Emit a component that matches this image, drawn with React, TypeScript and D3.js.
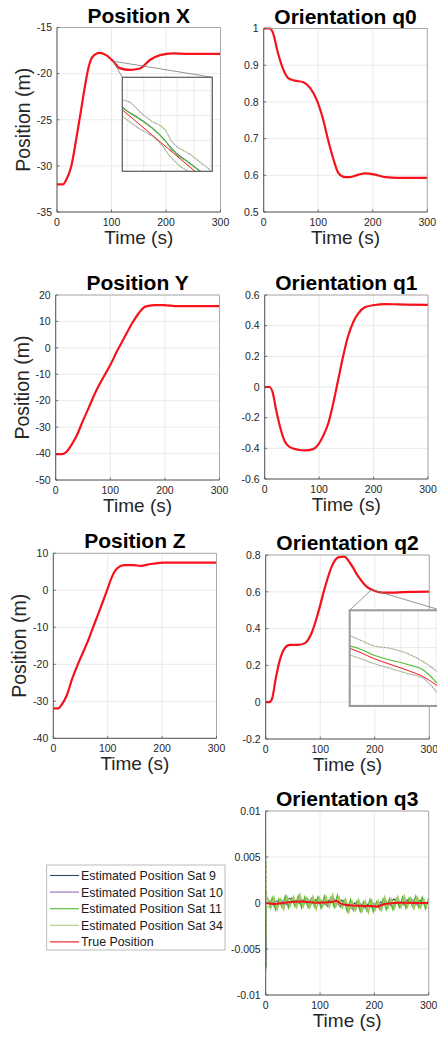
import React from 'react';
import * as d3 from 'd3';

const FONT = '"Liberation Sans", Arial, Helvetica, sans-serif';

// ---------------- data ----------------
const timeTicks = [0, 100, 200, 300];

// Position X
const posXTime = [0, 11, 17, 26, 35, 44, 50, 58, 65, 78, 90, 103, 115, 134, 152, 171, 189, 213, 240, 300];
const posXTrue = [-32, -32, -31.5, -30.1, -27.2, -24, -21.8, -19.3, -18.2, -17.75, -18, -18.65, -19.4, -19.6, -19.45, -18.5, -18, -17.8, -17.85, -17.85];
const posXTicks = [-35, -30, -25, -20, -15];

// Orientation q0
const q0Time = [0, 11, 17, 26, 36, 45, 57, 72, 85, 97, 109, 118, 128, 137, 149, 158, 174, 186, 204, 223, 247, 300];
const q0True = [1, 1, 0.988, 0.934, 0.888, 0.865, 0.858, 0.854, 0.838, 0.806, 0.752, 0.697, 0.643, 0.606, 0.595, 0.595, 0.602, 0.605, 0.602, 0.595, 0.593, 0.593];
const q0Ticks = [0.5, 0.6, 0.7, 0.8, 0.9, 1];

// Position Y
const posYTime = [0, 11, 20, 29, 39, 48, 60, 72, 88, 100, 112, 125, 140, 152, 164, 180, 198, 223, 300];
const posYTrue = [-40.2, -40.2, -39.3, -36.7, -33, -28.5, -22.9, -17.2, -10.9, -6.5, -1.4, 3.6, 9.3, 13.1, 15.6, 16.2, 16.2, 15.8, 15.8];
const posYTicks = [-50, -40, -30, -20, -10, 0, 10, 20];

// Orientation q1
const q1Time = [0, 9, 15, 21, 28, 37, 46, 61, 74, 89, 98, 107, 117, 126, 135, 144, 153, 163, 172, 184, 202, 221, 245, 300];
const q1True = [0, 0, -0.04, -0.149, -0.257, -0.355, -0.392, -0.409, -0.413, -0.405, -0.377, -0.322, -0.235, -0.105, 0.047, 0.199, 0.329, 0.426, 0.48, 0.52, 0.535, 0.541, 0.539, 0.535];
const q1Ticks = [-0.6, -0.4, -0.2, 0, 0.2, 0.4, 0.6];

// Position Z
const posZTime = [0, 9, 15, 25, 34, 46, 62, 77, 90, 99, 108, 117, 130, 148, 160, 179, 204, 241, 300];
const posZTrue = [-31.9, -31.9, -31, -28.3, -24.2, -19.7, -14.3, -8.5, -3.5, 0.1, 3.7, 5.9, 6.8, 6.8, 6.6, 7.1, 7.5, 7.5, 7.5];
const posZTicks = [-40, -30, -20, -10, 0, 10];

// Orientation q2
const q2Time = [0, 7, 12, 18, 26, 35, 44, 60, 72, 84, 96, 109, 121, 133, 144, 155, 170, 185, 198, 213, 237, 265, 300];
const q2True = [0, 0, 0.022, 0.122, 0.23, 0.294, 0.312, 0.312, 0.321, 0.375, 0.484, 0.628, 0.737, 0.787, 0.791, 0.755, 0.682, 0.628, 0.607, 0.596, 0.596, 0.6, 0.601];
const q2Ticks = [-0.2, 0, 0.2, 0.4, 0.6, 0.8];

// Orientation q3 (values in units of 1e-4)
const q3Time = [0, 17, 35, 66, 96, 121, 130, 136, 145, 170, 194, 204, 219, 250, 300];
const q3True = [0, -1, 0.4, 1.5, 0.4, 1, 2.5, 0, -2, -3, -3.3, -4, -1, 0.4, 0];
const q3Sat34 = [6, -5.5, 6, -6.8, 3.7, -6.7, 6.8, -2.8, 6.4, -4.5, 8.5, -3.6, 5.2, -5, 6.7, -6.5, 5.4, -3.5, 6.7, -4.1, 8.5, -3.7, 5.8, -5, 4, -9.5, 1.2, -8, 3, -9, 1.9, -10.2, 2.6, -7.8, 2, -7.8, 6, -5.4, 4, -5.7, 6.4, -4.6, 7.3, -3.8, 5.2, -5.9, 6.1, -5, 4, -6];
const q3Sat11 = [-5, 5.5, -7, 4.2, -4.3, 7.3, -5.2, 5.2, -3.6, 7.5, -5.5, 6.4, -4.8, 5, -4.3, 6.5, -5.6, 7.5, -3.3, 5.9, -4.5, 8.3, -4.2, 3, -9, 3.5, -7.8, 2, -9, 1, -8.1, 3.8, -9.4, 1.2, -7, 4.2, -7, 4.6, -7, 4.3, -4.6, 6.4, -5.7, 5.2, -3.8, 7.1, -4.9, 6, -6, 5];
const q3Sat10 = [4, -3.9, 3.3, -2.8, 3.5, -1.6, 5, -1.5, 3.5, -3.1, 5.3, -4, -0.5, -7, 0, -6.2, 0.2, -3.8, 2.6, -3.7, 2.4, -2.7, 4.2, -2.9, 3];
const q3Sat9 = [-3, 2.1, -1.7, 5.2, -1.5, 3.4, -3, 3.5, -2.5, 2.9, -0.7, 3, -4.5, 0, -7, -1.2, -6.8, 1.2, -2.4, 4.3, -2.6, 3.3, -1.8, 3.1, -3];
const q3SpikeTime = [0, 0.4, 0.8, 1.2, 1.6, 2.2];
const q3Spike34 = [78, -75, 45, -35, 14, 6];
const q3Spike9 = [-20, -70, -12, -30, -6, -3];
const q3Ticks = [-0.01, -0.005, 0, 0.005, 0.01];

// Zoom inset: Position X (normalized inset units 0..100)
const pxZoomPoint = { t: 103, v: -18.65 };
const pxInRedX = [0, 20, 40, 60, 80, 100];
const pxInRed = [65.4, 49.2, 33, 16.8, 0.6, -15.6];
const pxInGreenX = [0, 5, 10, 17, 24, 33, 42, 50, 55, 58, 61, 66, 72, 78, 85, 100];
const pxInGreen = [67.5, 64, 61, 57, 52.3, 46, 38.2, 30, 22.3, 21, 17, 14, 10.6, 6, 1, -10];
const pxInDark = [68.5, 64.5, 61.5, 57.5, 53, 46.5, 38.8, 29.5, 24.5, 21.5, 18.5, 15, 11, 6.5, 1.5, -9.5];
const pxInUpperX = [0, 4, 9, 16, 24, 33, 42, 48, 54, 61, 68, 76, 86, 98];
const pxInUpper = [76, 75, 73.5, 67, 59.4, 53, 48.8, 44, 32.9, 25.8, 22, 17.7, 10, 1];
const pxInLowerX = [0, 8, 16, 25, 35, 44, 52, 57, 61, 66, 72, 100];
const pxInLower = [58.3, 53, 47, 42, 36.4, 28, 17, 12, 8.1, 4, 1, -20];
const pxInGridX = [5.2, 23.8, 42.4, 61, 79.6, 98.2];
const pxInGridY = [6.4, 32.9, 59.4, 85.9];

// Zoom inset: Orientation q2
const q2ZoomPoint = { t: 194, v: 0.612 };
const q2InX = [0, 11.3, 25.8, 44.1, 62.4, 80.6, 95.6];
const q2InUpper = [73.5, 69, 63, 60.3, 55.1, 46.3, 36];
const q2InGreen = [63, 59.6, 53.3, 48.1, 43.6, 37.6, 24];
const q2InRed = [60.3, 56.1, 49.8, 43.6, 37.6, 30.6, 21.5];
const q2InLower = [53.3, 49.8, 44.6, 39.4, 34.2, 28.9, 14];
const q2InGridX = [16.8, 36.8, 56.2, 75.1, 94.5];
const q2InGridY = [1, 21, 41, 61, 81];

// Legend
const legendLabels = ['Estimated Position Sat 9', 'Estimated Position Sat 10', 'Estimated Position Sat 11', 'Estimated Position Sat 34', 'True Position'];

// ---------------- styles ----------------
const C = {
  sat9: '#2e4a62',
  sat10: '#8d6cc4',
  sat11: '#4cbb2f',
  sat34: '#a9cc7a',
  band34: '#a2c663',
  red: '#f5121b',
  grid: '#e4e4e4',
  text: '#262626',
};
const legendColors = [C.sat9, C.sat10, C.sat11, C.sat34, C.red];

type Box = { left: number; right: number; top: number; bottom: number };

const LAYOUT: Record<string, Box> = {
  px: { left: 57, right: 220.5, top: 27.5, bottom: 212 },
  q0: { left: 263.7, right: 427.3, top: 28.5, bottom: 212 },
  py: { left: 55.7, right: 219.5, top: 295, bottom: 480 },
  q1: { left: 264.7, right: 428, top: 295, bottom: 479 },
  pz: { left: 53.3, right: 216.5, top: 553.3, bottom: 738.3 },
  q2: { left: 265.7, right: 429.3, top: 555, bottom: 739 },
  q3: { left: 265.7, right: 428.7, top: 811, bottom: 995 },
};
const INSET_PX: Box = { left: 122.3, right: 212.3, top: 77.3, bottom: 171.3 };
const INSET_Q2: Box = { left: 349.7, right: 441, top: 610.3, bottom: 706 };

type Scale = d3.ScaleLinear<number, number>;

function path(x: Scale, y: Scale, t: number[], v: number[], curve: d3.CurveFactory = d3.curveMonotoneX) {
  const pts = t.map((tt, i) => [tt, v[i]] as [number, number]);
  return d3.line<[number, number]>().x((d) => x(d[0])).y((d) => y(d[1])).curve(curve)(pts) || '';
}

const fmt = (d: number) => String(Math.round(d * 1e6) / 1e6);

function Panel(props: {
  id: string;
  b: Box;
  yDomain: [number, number];
  yTicks: number[];
  title: string;
  ylabel?: string;
  render: (x: Scale, y: Scale) => React.ReactNode;
}) {
  const { id, b, yDomain, yTicks, title, ylabel, render } = props;
  const x = d3.scaleLinear().domain([0, 300]).range([b.left, b.right]);
  const y = d3.scaleLinear().domain(yDomain).range([b.bottom, b.top]);
  const cx = (b.left + b.right) / 2;
  const cy = (b.top + b.bottom) / 2;
  return (
    <g>
      <defs>
        <clipPath id={`clip-${id}`}>
          <rect x={b.left} y={b.top - 1.5} width={b.right - b.left} height={b.bottom - b.top + 3} />
        </clipPath>
      </defs>
      {timeTicks.map((t) => (
        <line key={`gx${t}`} x1={x(t)} x2={x(t)} y1={b.top} y2={b.bottom} stroke={C.grid} strokeWidth={0.8} />
      ))}
      {yTicks.map((v) => (
        <line key={`gy${v}`} x1={b.left} x2={b.right} y1={y(v)} y2={y(v)} stroke={C.grid} strokeWidth={0.8} />
      ))}
      <g clipPath={`url(#clip-${id})`}>{render(x, y)}</g>
      {/* box */}
      <line x1={b.left} x2={b.right} y1={b.top} y2={b.top} stroke="#9a9a9a" strokeWidth={0.8} />
      <line x1={b.right} x2={b.right} y1={b.top} y2={b.bottom} stroke="#9a9a9a" strokeWidth={0.8} />
      <line x1={b.left} x2={b.left} y1={b.top} y2={b.bottom} stroke="#555" strokeWidth={1} />
      <line x1={b.left} x2={b.right} y1={b.bottom} y2={b.bottom} stroke="#555" strokeWidth={1} />
      {/* ticks */}
      {timeTicks.map((t) => (
        <g key={`tx${t}`}>
          <line x1={x(t)} x2={x(t)} y1={b.bottom} y2={b.bottom - 2.5} stroke="#555" strokeWidth={0.8} />
          <text x={x(t)} y={b.bottom + 13.8} textAnchor="middle" fontSize={10.5} fill={C.text} fontFamily={FONT}>
            {fmt(t)}
          </text>
        </g>
      ))}
      {yTicks.map((v) => (
        <g key={`ty${v}`}>
          <line x1={b.left} x2={b.left + 2.5} y1={y(v)} y2={y(v)} stroke="#555" strokeWidth={0.8} />
          <text x={b.left - 5} y={y(v)} dy="0.36em" textAnchor="end" fontSize={10.5} fill={C.text} fontFamily={FONT}>
            {fmt(v)}
          </text>
        </g>
      ))}
      <text x={cx} y={b.top - 5} textAnchor="middle" fontSize={21} fontWeight="bold" fill="#000" fontFamily={FONT}>
        {title}
      </text>
      <text x={cx} y={b.bottom + 32} textAnchor="middle" fontSize={19} fill={C.text} fontFamily={FONT}>
        Time (s)
      </text>
      {ylabel && (
        <text
          transform={`translate(${b.left - 27},${cy}) rotate(-90)`}
          textAnchor="middle"
          fontSize={19.5}
          fill={C.text}
          fontFamily={FONT}
        >
          {ylabel}
        </text>
      )}
    </g>
  );
}

function Inset(props: {
  id: string;
  b: Box;
  gridX: number[];
  gridY: number[];
  border: string;
  borderWidth: number;
  render: (x: Scale, y: Scale) => React.ReactNode;
}) {
  const { id, b, gridX, gridY, border, borderWidth, render } = props;
  const x = d3.scaleLinear().domain([0, 100]).range([b.left, b.right]);
  const y = d3.scaleLinear().domain([0, 100]).range([b.bottom, b.top]);
  return (
    <g>
      <defs>
        <clipPath id={`iclip-${id}`}>
          <rect x={b.left} y={b.top} width={b.right - b.left} height={b.bottom - b.top} />
        </clipPath>
      </defs>
      <rect x={b.left} y={b.top} width={b.right - b.left} height={b.bottom - b.top} fill="#fff" />
      {gridX.map((g) => (
        <line key={`igx${g}`} x1={x(g)} x2={x(g)} y1={b.top} y2={b.bottom} stroke="#e6e6e6" strokeWidth={0.8} />
      ))}
      {gridY.map((g) => (
        <line key={`igy${g}`} x1={b.left} x2={b.right} y1={y(g)} y2={y(g)} stroke="#e6e6e6" strokeWidth={0.8} />
      ))}
      <g clipPath={`url(#iclip-${id})`}>{render(x, y)}</g>
      <rect x={b.left} y={b.top} width={b.right - b.left} height={b.bottom - b.top} fill="none" stroke={border} strokeWidth={borderWidth} />
    </g>
  );
}

function Envelope({ d }: { d: string }) {
  return (
    <g>
      <path d={d} fill="none" stroke="#8e8aa6" strokeWidth={1.1} strokeDasharray="1.2,1.6" />
      <path d={d} fill="none" stroke={C.sat34} strokeWidth={1.1} strokeDasharray="1.2,1.6" strokeDashoffset={1.4} />
    </g>
  );
}

export default function App() {
  const L = LAYOUT;
  const lin = d3.curveLinear;
  const scale4 = (arr: number[]) => arr.map((v) => v * 1e-4);
  const t34 = q3Sat34.map((_, i) => 3 + 6 * i);
  const t11 = q3Sat11.map((_, i) => 6 + 6 * i);
  const t10 = q3Sat10.map((_, i) => 4.5 + 12 * i);
  const t9 = q3Sat9.map((_, i) => 8 + 12 * i);

  // zoom connector anchors
  const pxX = d3.scaleLinear().domain([0, 300]).range([L.px.left, L.px.right]);
  const pxY = d3.scaleLinear().domain([-35, -15]).range([L.px.bottom, L.px.top]);
  const q2X = d3.scaleLinear().domain([0, 300]).range([L.q2.left, L.q2.right]);
  const q2Y = d3.scaleLinear().domain([-0.2, 0.8]).range([L.q2.bottom, L.q2.top]);
  const pxA = [pxX(pxZoomPoint.t), pxY(pxZoomPoint.v)];
  const q2A = [q2X(q2ZoomPoint.t), q2Y(q2ZoomPoint.v)];

  const legend = { left: 46.7, right: 225, top: 865, bottom: 950 };

  return (
    <svg
      width={437}
      height={1041}
      viewBox="0 0 437 1041"
      style={{ position: 'absolute', left: 0, top: 0, background: '#fff' }}
    >
      <rect x={0} y={0} width={437} height={1041} fill="#fff" />

      <Panel id="px" b={L.px} yDomain={[-35, -15]} yTicks={posXTicks} title="Position X" ylabel="Position (m)"
        render={(x, y) => <path d={path(x, y, posXTime, posXTrue)} fill="none" stroke={C.red} strokeWidth={2.2} />} />
      <Panel id="q0" b={L.q0} yDomain={[0.5, 1]} yTicks={q0Ticks} title="Orientation q0"
        render={(x, y) => <path d={path(x, y, q0Time, q0True)} fill="none" stroke={C.red} strokeWidth={2.2} />} />
      <Panel id="py" b={L.py} yDomain={[-50, 20]} yTicks={posYTicks} title="Position Y" ylabel="Position (m)"
        render={(x, y) => <path d={path(x, y, posYTime, posYTrue)} fill="none" stroke={C.red} strokeWidth={2.2} />} />
      <Panel id="q1" b={L.q1} yDomain={[-0.6, 0.6]} yTicks={q1Ticks} title="Orientation q1"
        render={(x, y) => <path d={path(x, y, q1Time, q1True)} fill="none" stroke={C.red} strokeWidth={2.2} />} />
      <Panel id="pz" b={L.pz} yDomain={[-40, 10]} yTicks={posZTicks} title="Position Z" ylabel="Position (m)"
        render={(x, y) => <path d={path(x, y, posZTime, posZTrue)} fill="none" stroke={C.red} strokeWidth={2.2} />} />
      <Panel id="q2" b={L.q2} yDomain={[-0.2, 0.8]} yTicks={q2Ticks} title="Orientation q2"
        render={(x, y) => <path d={path(x, y, q2Time, q2True)} fill="none" stroke={C.red} strokeWidth={2.2} />} />
      <Panel id="q3" b={L.q3} yDomain={[-0.01, 0.01]} yTicks={q3Ticks} title="Orientation q3"
        render={(x, y) => (
          <g>
            <path d={path(x, y, q3SpikeTime, scale4(q3Spike9), lin)} fill="none" stroke={C.sat9} strokeWidth={1} />
            <path d={path(x, y, t9, scale4(q3Sat9), lin)} fill="none" stroke={C.sat9} strokeWidth={1.1} />
            <path d={path(x, y, t10, scale4(q3Sat10), lin)} fill="none" stroke={C.sat10} strokeWidth={1.1} />
            <path d={path(x, y, t11, scale4(q3Sat11), lin)} fill="none" stroke={C.sat11} strokeWidth={1.4} />
            <path d={path(x, y, t34, scale4(q3Sat34), lin)} fill="none" stroke={C.band34} strokeWidth={1.7} />
            <path d={path(x, y, q3SpikeTime, scale4(q3Spike34), lin)} fill="none" stroke={C.sat34} strokeWidth={1} strokeDasharray="3,2" />
            <path d={path(x, y, q3Time, scale4(q3True))} fill="none" stroke={C.red} strokeWidth={2} />
          </g>
        )} />

      {/* zoom connectors */}
      <line x1={pxA[0]} y1={pxA[1]} x2={INSET_PX.left} y2={INSET_PX.top} stroke="#777" strokeWidth={0.8} />
      <line x1={pxA[0]} y1={pxA[1]} x2={INSET_PX.right} y2={INSET_PX.top} stroke="#777" strokeWidth={0.8} />
      <line x1={q2A[0]} y1={q2A[1]} x2={INSET_Q2.left} y2={INSET_Q2.top} stroke="#777" strokeWidth={0.8} />
      <line x1={q2A[0]} y1={q2A[1]} x2={INSET_Q2.right} y2={INSET_Q2.top} stroke="#777" strokeWidth={0.8} />

      <Inset id="px" b={INSET_PX} gridX={pxInGridX} gridY={pxInGridY} border="#5a5a5a" borderWidth={1.2}
        render={(x, y) => (
          <g>
            <Envelope d={path(x, y, pxInUpperX, pxInUpper, lin)} />
            <Envelope d={path(x, y, pxInLowerX, pxInLower, lin)} />
            <path d={path(x, y, pxInGreenX, pxInDark, lin)} fill="none" stroke={C.sat9} strokeWidth={0.9} />
            <path d={path(x, y, pxInGreenX, pxInGreen, lin)} fill="none" stroke={C.sat11} strokeWidth={1.1} />
            <path d={path(x, y, pxInRedX, pxInRed, lin)} fill="none" stroke={C.red} strokeWidth={1} />
          </g>
        )} />
      <Inset id="q2" b={INSET_Q2} gridX={q2InGridX} gridY={q2InGridY} border="#9a9a9a" borderWidth={2}
        render={(x, y) => (
          <g>
            <Envelope d={path(x, y, q2InX, q2InUpper)} />
            <Envelope d={path(x, y, q2InX, q2InLower)} />
            <path d={path(x, y, q2InX, q2InGreen)} fill="none" stroke={C.sat11} strokeWidth={1.1} />
            <path d={path(x, y, q2InX, q2InRed)} fill="none" stroke={C.red} strokeWidth={1} />
          </g>
        )} />

      {/* legend */}
      <rect x={legend.left} y={legend.top} width={legend.right - legend.left} height={legend.bottom - legend.top}
        fill="#fff" stroke="#aaaaaa" strokeWidth={0.8} />
      {legendLabels.map((lab, i) => {
        const yy = legend.top + 10.5 + i * 16.6;
        return (
          <g key={lab}>
            <line x1={50} x2={79} y1={yy} y2={yy} stroke={legendColors[i]} strokeWidth={1.1} />
            <text x={81} y={yy} dy="0.36em" fontSize={12.4} fill="#1a1a1a" fontFamily={FONT}>
              {lab}
            </text>
          </g>
        );
      })}
    </svg>
  );
}
